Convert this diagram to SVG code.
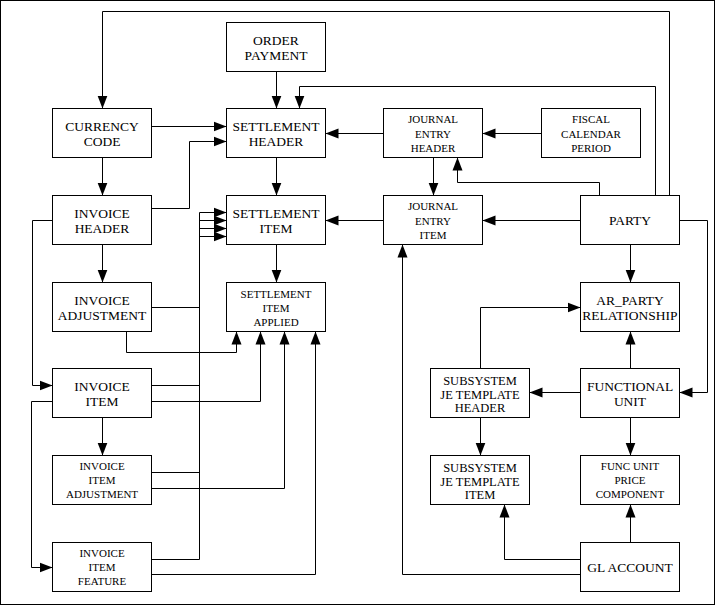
<svg xmlns="http://www.w3.org/2000/svg" width="717" height="606" viewBox="0 0 717 606">
<style>
.b{fill:#fff;stroke:#000;stroke-width:1}
.c{fill:none;stroke:#000;stroke-width:1;marker-end:url(#a)}
.p{fill:none;stroke:#000;stroke-width:1}
text{font-family:"Liberation Serif","Times New Roman",serif;fill:#000;text-anchor:middle}
.L{font-size:13.5px}
.S{font-size:11px}
.M{font-size:12.5px}
</style>
<defs>
<marker id="a" markerWidth="14" markerHeight="12" refX="13" refY="6" orient="auto" markerUnits="userSpaceOnUse" viewBox="0 0 14 12">
<path d="M0,1 L13,6 L0,11 Z" fill="#000"/>
</marker>
</defs>
<rect x="0" y="0" width="717" height="606" fill="#fff"/>
<rect x="0.5" y="0.5" width="714" height="604" fill="none" stroke="#000"/>

<g id="connectors">
<polyline class="c" points="669.5,195.5 669.5,11.5 102.5,11.5 102.5,108.5"/>
<polyline class="c" points="655.5,195.5 655.5,86.5 299.5,86.5 299.5,108.5"/>
<polyline class="c" points="599.5,195.5 599.5,182.5 457.5,182.5 457.5,157.5"/>
<line class="c" x1="276.5" y1="71.5" x2="276.5" y2="108.5"/>
<line class="c" x1="151.5" y1="126.5" x2="226.5" y2="126.5"/>
<polyline class="c" points="151.5,208.5 189.5,208.5 189.5,141.5 226.5,141.5"/>
<line class="c" x1="383.5" y1="133.5" x2="325.5" y2="133.5"/>
<line class="c" x1="541.5" y1="133.5" x2="482.5" y2="133.5"/>
<line class="c" x1="433.5" y1="157.5" x2="433.5" y2="195.5"/>
<line class="c" x1="102.5" y1="157.5" x2="102.5" y2="195.5"/>
<line class="c" x1="276.5" y1="157.5" x2="276.5" y2="195.5"/>
<line class="c" x1="383.5" y1="220.5" x2="325.5" y2="220.5"/>
<line class="c" x1="580.5" y1="220.5" x2="482.5" y2="220.5"/>
<polyline class="c" points="679.5,220.5 707.5,220.5 707.5,392.5 679.5,392.5"/>
<line class="c" x1="630.5" y1="244.5" x2="630.5" y2="282.5"/>
<line class="c" x1="630.5" y1="368.5" x2="630.5" y2="331.5"/>
<polyline class="c" points="480.5,368.5 480.5,307.5 580.5,307.5"/>
<line class="c" x1="580.5" y1="392.5" x2="529.5" y2="392.5"/>
<line class="c" x1="480.5" y1="417.5" x2="480.5" y2="455.5"/>
<line class="c" x1="630.5" y1="417.5" x2="630.5" y2="455.5"/>
<line class="c" x1="630.5" y1="542.5" x2="630.5" y2="504.5"/>
<polyline class="c" points="580.5,559.5 504.5,559.5 504.5,504.5"/>
<polyline class="c" points="580.5,574.5 402.5,574.5 402.5,244.5"/>
<line class="c" x1="102.5" y1="244.5" x2="102.5" y2="282.5"/>
<polyline class="c" points="52.5,220.5 32.5,220.5 32.5,385.5 52.5,385.5"/>
<polyline class="c" points="52.5,401.5 31.5,401.5 31.5,567.5 52.5,567.5"/>
<line class="c" x1="276.5" y1="244.5" x2="276.5" y2="282.5"/>
<line class="c" x1="102.5" y1="417.5" x2="102.5" y2="455.5"/>
<polyline class="c" points="151.5,307.5 199.5,307.5 199.5,212.5 226.5,212.5"/>
<polyline class="c" points="151.5,385.5 199.5,385.5 199.5,220.5 226.5,220.5"/>
<polyline class="c" points="151.5,472.5 199.5,472.5 199.5,228.5 226.5,228.5"/>
<polyline class="c" points="151.5,559.5 199.5,559.5 199.5,236.5 226.5,236.5"/>
<polyline class="c" points="126.5,331.5 126.5,352.5 236.5,352.5 236.5,331.5"/>
<polyline class="c" points="151.5,401.5 260.5,401.5 260.5,331.5"/>
<polyline class="c" points="151.5,488.5 284.5,488.5 284.5,331.5"/>
<polyline class="c" points="151.5,574.5 315.5,574.5 315.5,331.5"/>
</g>

<g id="order-payment"><rect class="b" x="226.5" y="22.5" width="99" height="49"/><text class="L" x="276" y="44.5">ORDER</text><text class="L" x="276" y="60">PAYMENT</text></g>
<g id="currency-code"><rect class="b" x="52.5" y="108.5" width="99" height="49"/><text class="L" x="102" y="130.5">CURRENCY</text><text class="L" x="102" y="146">CODE</text></g>
<g id="settlement-header"><rect class="b" x="226.5" y="108.5" width="99" height="49"/><text class="L" x="276" y="130.5">SETTLEMENT</text><text class="L" x="276" y="146">HEADER</text></g>
<g id="journal-entry-header"><rect class="b" x="383.5" y="108.5" width="99" height="49"/><text class="S" x="433" y="123">JOURNAL</text><text class="S" x="433" y="137.5">ENTRY</text><text class="S" x="433" y="152">HEADER</text></g>
<g id="fiscal-calendar-period"><rect class="b" x="541.5" y="108.5" width="99" height="49"/><text class="S" x="591" y="123">FISCAL</text><text class="S" x="591" y="137.5">CALENDAR</text><text class="S" x="591" y="152">PERIOD</text></g>
<g id="invoice-header"><rect class="b" x="52.5" y="195.5" width="99" height="49"/><text class="L" x="102" y="217.5">INVOICE</text><text class="L" x="102" y="233">HEADER</text></g>
<g id="settlement-item"><rect class="b" x="226.5" y="195.5" width="99" height="49"/><text class="L" x="276" y="217.5">SETTLEMENT</text><text class="L" x="276" y="233">ITEM</text></g>
<g id="journal-entry-item"><rect class="b" x="383.5" y="195.5" width="99" height="49"/><text class="S" x="433" y="210">JOURNAL</text><text class="S" x="433" y="224.5">ENTRY</text><text class="S" x="433" y="239">ITEM</text></g>
<g id="party"><rect class="b" x="580.5" y="195.5" width="99" height="49"/><text class="L" x="630" y="225">PARTY</text></g>
<g id="invoice-adjustment"><rect class="b" x="52.5" y="282.5" width="99" height="49"/><text class="L" x="102" y="304.5">INVOICE</text><text class="L" x="102" y="320">ADJUSTMENT</text></g>
<g id="settlement-item-applied"><rect class="b" x="226.5" y="282.5" width="99" height="49"/><text class="S" x="276" y="297.5">SETTLEMENT</text><text class="S" x="276" y="311.5">ITEM</text><text class="S" x="276" y="325.5">APPLIED</text></g>
<g id="ar-party-relationship"><rect class="b" x="580.5" y="282.5" width="99" height="49"/><text class="L" x="630" y="304.5">AR_PARTY</text><text class="L" x="630" y="320">RELATIONSHIP</text></g>
<g id="invoice-item"><rect class="b" x="52.5" y="368.5" width="99" height="49"/><text class="L" x="102" y="390.5">INVOICE</text><text class="L" x="102" y="406">ITEM</text></g>
<g id="subsystem-je-template-header"><rect class="b" x="430.5" y="368.5" width="99" height="49"/><text class="M" x="480" y="385">SUBSYSTEM</text><text class="M" x="480" y="398.5">JE TEMPLATE</text><text class="M" x="480" y="412">HEADER</text></g>
<g id="functional-unit"><rect class="b" x="580.5" y="368.5" width="99" height="49"/><text class="L" x="630" y="390.5">FUNCTIONAL</text><text class="L" x="630" y="406">UNIT</text></g>
<g id="invoice-item-adjustment"><rect class="b" x="52.5" y="455.5" width="99" height="49"/><text class="S" x="102" y="470">INVOICE</text><text class="S" x="102" y="484">ITEM</text><text class="S" x="102" y="498">ADJUSTMENT</text></g>
<g id="subsystem-je-template-item"><rect class="b" x="430.5" y="455.5" width="99" height="49"/><text class="M" x="480" y="472">SUBSYSTEM</text><text class="M" x="480" y="485.5">JE TEMPLATE</text><text class="M" x="480" y="499">ITEM</text></g>
<g id="func-unit-price-component"><rect class="b" x="580.5" y="455.5" width="99" height="49"/><text class="S" x="630" y="470">FUNC UNIT</text><text class="S" x="630" y="484">PRICE</text><text class="S" x="630" y="498">COMPONENT</text></g>
<g id="invoice-item-feature"><rect class="b" x="52.5" y="542.5" width="99" height="49"/><text class="S" x="102" y="557">INVOICE</text><text class="S" x="102" y="571">ITEM</text><text class="S" x="102" y="585">FEATURE</text></g>
<g id="gl-account"><rect class="b" x="580.5" y="542.5" width="99" height="49"/><text class="L" x="630" y="572">GL ACCOUNT</text></g>
</svg>
